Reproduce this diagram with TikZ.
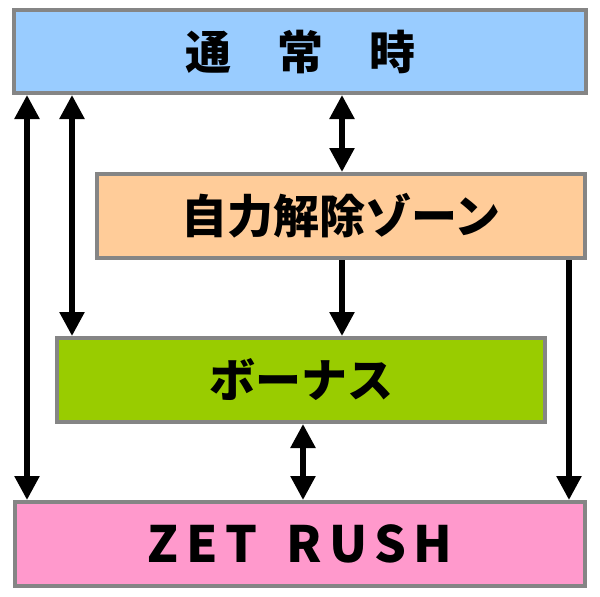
\documentclass[tikz,border=0pt]{standalone}
\usepackage{fontspec}
\newfontfamily\jp{Noto Sans CJK JP}
\usetikzlibrary{arrows.meta}
\definecolor{cblue}{HTML}{99CCFF}
\definecolor{corange}{HTML}{FFCC99}
\definecolor{cgreen}{HTML}{99CC00}
\definecolor{cpink}{HTML}{FF99CC}
\definecolor{cborder}{HTML}{858585}
\begin{document}
\begin{tikzpicture}[x=1pt,y=-1pt,
  box/.style={draw=cborder,line width=4pt,inner sep=0pt,minimum height=84pt,font=\jp\bfseries\fontsize{46}{50}\selectfont},
  conn/.style={line width=5.5pt,-{Triangle[width=24pt,length=24pt]}},
  bconn/.style={line width=5.5pt,{Triangle[width=24pt,length=24pt]}-{Triangle[width=24pt,length=24pt]}}]
\useasboundingbox[fill=white] (0,0) rectangle (600,597);
\node[box,fill=cblue,minimum width=572pt,minimum height=83pt] (A) at (300,51.5) {通　常　時};
\node[box,fill=corange,minimum width=488pt] (B) at (341,216) {自力解除ゾーン};
\node[box,fill=cgreen,minimum width=488pt] (C) at (301,380) {ボーナス};
\node[box,fill=cpink,minimum width=570pt,font=\jp\bfseries\fontsize{50}{54}\selectfont\addfontfeature{LetterSpace=15}] (D) at (300,544) {ZET\hspace{10pt} RUSH};
\coordinate (x1) at (27,0);
\coordinate (x2) at (72,0);
\coordinate (x3) at (342,0);
\coordinate (x4) at (569,0);
\coordinate (x5) at (303,0);
\draw[bconn] (A.south -| x1) -- (D.north -| x1);
\draw[bconn] (A.south -| x2) -- (C.north -| x2);
\draw[bconn] (A.south -| x3) -- (B.north -| x3);
\draw[conn] (B.south -| x3) -- (C.north -| x3);
\draw[conn] (B.south -| x4) -- (D.north -| x4);
\draw[bconn] (C.south -| x5) -- (D.north -| x5);
\end{tikzpicture}
\end{document}
